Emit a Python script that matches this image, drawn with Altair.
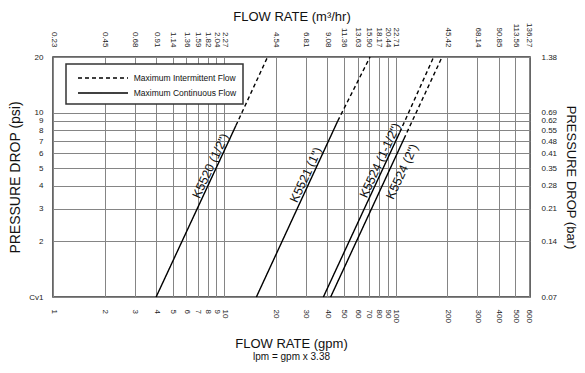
import altair as alt
import pandas as pd

# ---- data ----
valves = ['K5520 (1/2")', 'K5521 (1")', 'K5524 (1-1/2")', 'K5524 (2")']
start_gpm = [4.0, 15.4, 37.9, 41.8]      # flow at 1 psi (Cv)
start_psi = [1, 1, 1, 1]
cont_gpm = [11.7, 46.0, 105.8, 112.0]    # end of maximum continuous flow
cont_psi = [8.5, 9.0, 7.8, 7.2]
inter_gpm = [17.9, 71.0, 167.0, 187.0]   # maximum intermittent flow at 20 psi
inter_psi = [20, 20, 20, 20]

label_gpm = [8.96, 32.3, 87.5, 94.5]
label_psi = [4.98, 4.44, 5.33, 5.1]
label_side = ["above", "above", "above", "below"]

gpm_ticks = [1, 2, 3, 4, 5, 6, 7, 8, 9, 10, 20, 30, 40, 50, 60, 70, 80, 90,
             100, 200, 300, 400, 500, 600]
m3hr_labels = ["0.23", "0.45", "0.68", "0.91", "1.14", "1.36", "1.59", "1.82",
               "2.04", "2.27", "4.54", "6.81", "9.08", "11.36", "13.63", "15.90",
               "18.17", "20.44", "22.71", "45.42", "68.14", "90.85", "113.56",
               "136.27"]
psi_ticks = [1, 2, 3, 4, 5, 6, 7, 8, 9, 10, 20]
bar_labels = ["0.07", "0.14", "0.21", "0.28", "0.35", "0.41", "0.48", "0.55",
              "0.62", "0.69", "1.38"]

CONT = "Maximum Continuous Flow"
INTER = "Maximum Intermittent Flow"

rows = []
for i, v in enumerate(valves):
    rows.append(dict(valve=v, seg=CONT, grp=v + CONT, gpm=start_gpm[i], psi=start_psi[i], o=0))
    rows.append(dict(valve=v, seg=CONT, grp=v + CONT, gpm=cont_gpm[i], psi=cont_psi[i], o=1))
    rows.append(dict(valve=v, seg=INTER, grp=v + INTER, gpm=cont_gpm[i], psi=cont_psi[i], o=0))
    rows.append(dict(valve=v, seg=INTER, grp=v + INTER, gpm=inter_gpm[i], psi=inter_psi[i], o=1))
line_df = pd.DataFrame(rows)

label_df = pd.DataFrame(dict(valve=valves, gpm=label_gpm, psi=label_psi, side=label_side))


def lookup_expr(vals, labels):
    expr = "''"
    for v, l in reversed(list(zip(vals, labels))):
        expr = f"datum.value == {v} ? '{l}' : ({expr})"
    return expr


FONT = "Liberation Sans"
xscale = alt.Scale(type="log", domain=[1, 610], nice=False)
yscale = alt.Scale(type="log", domain=[1, 20], nice=False)
GRID = "#858585"

common_axis = dict(ticks=False, tickSize=0, domain=False, labelOverlap=False,
                   labelFlush=False, labelBound=False, labelFontSize=8,
                   labelColor="#222", titleFontWeight="normal", titleColor="#111")

x_bottom = alt.Axis(orient="bottom", values=gpm_ticks, format="~g", labelAngle=90,
                    labelAlign="left", labelBaseline="middle", labelPadding=12,
                    grid=True, gridColor=GRID, gridWidth=1, title=None, **common_axis)
y_left = alt.Axis(orient="left", values=psi_ticks, format="~g",
                  labelExpr="datum.value == 1 ? 'Cv1' : datum.label",
                  labelPadding=10, grid=True, gridColor=GRID, gridWidth=1,
                  title="PRESSURE DROP (psi)", titleFontSize=14,
                  titleBaseline="middle", titleX=-38,
                  **common_axis)
x_top = alt.Axis(orient="top", values=gpm_ticks, labelExpr=lookup_expr(gpm_ticks, m3hr_labels),
                 labelAngle=90, labelAlign="right", labelBaseline="middle",
                 labelPadding=10, grid=False, title="FLOW RATE (m³/hr)",
                 titleFontSize=13, titleBaseline="top", titleY=-47,
                 **common_axis)
y_right = alt.Axis(orient="right", values=psi_ticks, labelExpr=lookup_expr(psi_ticks, bar_labels),
                   labelAlign="left", labelPadding=11, grid=False,
                   title="PRESSURE DROP (bar)", titleFontSize=13,
                   titleBaseline="middle", titleX=40,
                   **common_axis)

lines = alt.Chart(line_df).mark_line(color="black", strokeWidth=1.4).encode(
    x=alt.X("gpm:Q", scale=xscale, axis=x_bottom),
    y=alt.Y("psi:Q", scale=yscale, axis=y_left),
    detail="grp:N",
    order="o:Q",
    strokeDash=alt.StrokeDash(
        "seg:N",
        scale=alt.Scale(domain=[INTER, CONT], range=[[4, 3], [1, 0]]),
        legend=alt.Legend(
            orient="none", legendX=13, legendY=7, title=None,
            symbolType="M-0.286,0H6.857", symbolSize=196, symbolStrokeWidth=1.4,
            symbolStrokeColor="black", labelFontSize=8.5, labelColor="#111",
            labelOffset=45.7, fillColor="white",
        ),
    ),
)

labels_above = alt.Chart(label_df).transform_filter("datum.side == 'above'").mark_text(
    angle=295, align="center", baseline="alphabetic", dy=-2, fontSize=12.5, color="#111"
).encode(
    x=alt.X("gpm:Q", axis=x_top),
    y=alt.Y("psi:Q", axis=y_right),
    text="valve:N",
)

labels_below = alt.Chart(label_df).transform_filter("datum.side == 'below'").mark_text(
    angle=295, align="center", baseline="top", dy=6, fontSize=12.5, color="#111"
).encode(
    x=alt.X("gpm:Q", axis=None),
    y=alt.Y("psi:Q", axis=None),
    text="valve:N",
)

chart = alt.layer(lines, labels_above, labels_below).resolve_axis(
    x="independent", y="independent"
).properties(
    width=477,
    height=240,
    autosize=alt.AutoSizeParams(type="none"),
    padding={"left": 45, "top": 49, "right": 47, "bottom": 68},
    title=alt.TitleParams(
        text="FLOW RATE (gpm)", subtitle="lpm = gpm x 3.38", orient="bottom",
        anchor="middle", frame="group", fontSize=13, fontWeight="normal",
        color="#111", subtitleFontSize=10, subtitleColor="#111",
        subtitlePadding=1, offset=16,
    ),
).configure(font=FONT).configure_view(
    stroke="#333", strokeWidth=1.5
).configure_legend(
    strokeColor="#333", strokeWidth=1.5, padding=6, rowPadding=2
)

chart.save("out.html", embed_options={"renderer": "svg", "actions": False})
